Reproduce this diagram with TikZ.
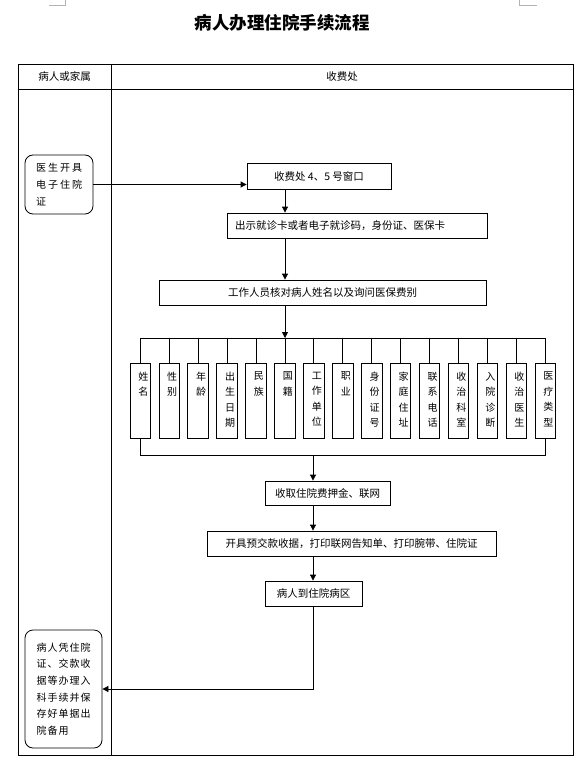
\documentclass[tikz,border=0pt]{standalone}
\usepackage{fontspec}
\setmainfont{Noto Sans CJK SC}
\usetikzlibrary{arrows.meta}
\usetikzlibrary{positioning}

\tikzset{
  stepbox/.style={draw, minimum height=25pt, inner sep=0pt,
    font=\fontsize{10.5}{13}\selectfont},
  notebox/.style={draw, rounded corners=8pt, align=left, inner sep=0pt},
  field/.style={draw, minimum width=20.5pt, minimum height=75pt, inner sep=0pt},
  fieldtext/.style={align=center, inner sep=0pt,
    font=\fontsize{10}{15.5}\selectfont},
  arr/.style={-{Triangle[length=6pt,width=6pt]}},
}

\begin{document}
\begin{tikzpicture}[x=1pt, y=-1pt, line width=0.8pt]
  \useasboundingbox (0,0) rectangle (586,770);
  % crop marks
  \draw[gray!60] (49,5) -- (65,5) -- (65,0);
  \draw[gray!60] (519,0) -- (519,5) -- (537,5);
  % title
  \node[font=\fontsize{17.5}{20}\selectfont\bfseries] (title) at (282,23)
    {病人办理住院手续流程};
  % table
  \draw (18,64) rectangle (573,755);
  \draw (18,89) -- (573,89);
  \draw (111,64) -- (111,755);
  \node[font=\fontsize{10.5}{13}\selectfont] (hpat) at (64.5,76.5) {病人或家属};
  \node[font=\fontsize{10.5}{13}\selectfont] (hfee) at (342,76.5) {收费处};
  % patient side
  \node[notebox, minimum width=68pt, minimum height=59pt,
    font=\fontsize{10}{17}\selectfont\addfontfeature{LetterSpace=20}]
    (doc) at (59,184.5) {医生开具\\电子住院\\证};
  \node[notebox, minimum width=77pt, minimum height=118pt,
    font=\fontsize{10}{16.6}\selectfont\addfontfeature{LetterSpace=10}]
    (final) at (63.5,689)
    {病人凭住院\\证、交款收\\据等办理入\\科手续并保\\存好单据出\\院备用};
  % charge side
  \node[stepbox, minimum width=144pt, minimum height=26pt] (win) at (319,176)
    {收费处 4、5 号窗口};
  \node[stepbox, minimum width=260pt, text width=244pt, align=left]
    (show) at (357,225.5) {出示就诊卡或者电子就诊码，身份证、医保卡};
  \node[stepbox, minimum width=327pt] (check) at (322.5,292.5)
    {工作人员核对病人姓名以及询问医保费别};
  % fields
  \foreach \i/\txt in {1/{姓\\名}, 2/{性\\别}, 3/{年\\龄}, 4/{出\\生\\日\\期},
      5/{民\\族}, 6/{国\\籍}, 7/{工\\作\\单\\位}, 8/{职\\业}, 9/{身\\份\\证\\号},
      10/{家\\庭\\住\\址}, 11/{联\\系\\电\\话}, 12/{收\\治\\科\\室},
      13/{入\\院\\诊\\断}, 14/{收\\治\\医\\生}, 15/{医\\疗\\类\\型}} {
    \node[field] (f\i) at ({140.25+(\i-1)*28.93},400.5) {};
    \node[fieldtext, below=9pt of f\i.north, xshift=3pt] (t\i) {\txt};
  }
  \node[stepbox, minimum width=125pt, minimum height=24pt] (fee) at (327.5,493)
    {收取住院费押金、联网};
  \node[stepbox, minimum width=289pt] (receipt) at (351.5,543.5)
    {开具预交款收据，打印联网告知单、打印腕带、住院证};
  \node[stepbox, minimum width=97pt] (ward) at (313.5,593.5)
    {病人到住院病区};
  % buses
  \coordinate (tb) at (0,338);
  \coordinate (bb) at (0,455);
  \coordinate (sp) at (285,0);
  \coordinate (sq) at (313,0);
  \foreach \i in {1,...,15}
    \draw (f\i.north) -- (f\i.north |- tb);
  \draw (f1.north |- tb) -- (f15.north |- tb);
  \draw (f1.south) -- (f1.south |- bb) -- (f15.south |- bb) -- (f15.south);
  % arrows
  \draw[arr] (doc.east) -- (doc.east -| win.west);
  \draw[arr] (win.south -| sp) -- (show.north -| sp);
  \draw[arr] (show.south -| sp) -- (check.north -| sp);
  \draw[arr] (check.south -| sp) -- (sp |- tb);
  \draw[arr] (sq |- bb) -- (fee.north -| sq);
  \draw[arr] (fee.south -| sq) -- (receipt.north -| sq);
  \draw[arr] (receipt.south -| sq) -- (ward.north -| sq);
  \draw[arr] (ward.south -| sq) |- (final.east);
\end{tikzpicture}
\end{document}
